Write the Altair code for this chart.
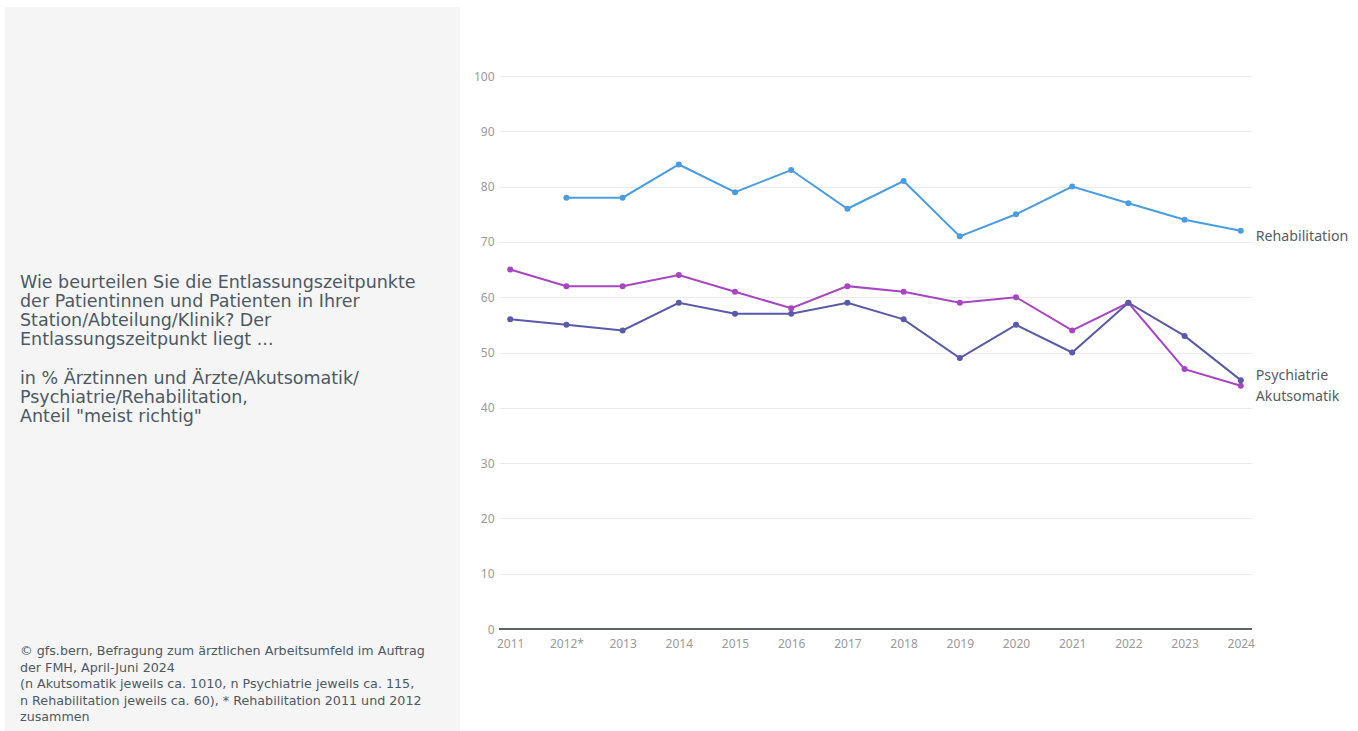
import altair as alt
import pandas as pd

years = ["2011", "2012*", "2013", "2014", "2015", "2016", "2017", "2018",
         "2019", "2020", "2021", "2022", "2023", "2024"]
rehabilitation = [None, 78, 78, 84, 79, 83, 76, 81, 71, 75, 80, 77, 74, 72]
akutsomatik = [65, 62, 62, 64, 61, 58, 62, 61, 59, 60, 54, 59, 47, 44]
psychiatrie = [56, 55, 54, 59, 57, 57, 59, 56, 49, 55, 50, 59, 53, 45]

series_names = ["Akutsomatik", "Psychiatrie", "Rehabilitation"]
series_colors = ["#a845c2", "#5a5aa8", "#4a9de0"]

question = ("Wie beurteilen Sie die Entlassungszeitpunkte\n"
            "der Patientinnen und Patienten in Ihrer\n"
            "Station/Abteilung/Klinik? Der\n"
            "Entlassungszeitpunkt liegt ...")
unit = ("in % Ärztinnen und Ärzte/Akutsomatik/\n"
        "Psychiatrie/Rehabilitation,\n"
        "Anteil \"meist richtig\"")
source = ("© gfs.bern, Befragung zum ärztlichen Arbeitsumfeld im Auftrag\n"
          "der FMH, April-Juni 2024\n"
          "(n Akutsomatik jeweils ca. 1010, n Psychiatrie jeweils ca. 115,\n"
          "n Rehabilitation jeweils ca. 60), * Rehabilitation 2011 und 2012\n"
          "zusammen")

rows = []
for name, vals in zip(["Rehabilitation", "Akutsomatik", "Psychiatrie"],
                      [rehabilitation, akutsomatik, psychiatrie]):
    for y, v in zip(years, vals):
        if v is not None:
            rows.append({"Jahr": y, "Wert": v, "Serie": name})
df = pd.DataFrame(rows)
one = pd.DataFrame({"k": [0]})

W, H = 753, 553
FONT = "Noto Sans"
LFONT = "DejaVu Sans"
TXT = "#4d5963"

xenc = alt.X("Jahr:N", sort=years, scale=alt.Scale(type="point", padding=0.2),
             axis=alt.Axis(title=None, labelAngle=0, domain=False, ticks=False,
                           grid=False, labelColor="#9a9a9a", labelFontSize=12,
                           labelFont=FONT, labelPadding=9))
yenc = alt.Y("Wert:Q", scale=alt.Scale(domain=[0, 100]),
             axis=alt.Axis(title=None, values=list(range(0, 101, 10)), domain=False,
                           ticks=False, gridColor="#ececec", gridWidth=1,
                           labelColor="#9a9a9a", labelFontSize=12, labelFont=FONT,
                           labelPadding=5))
color = alt.Color("Serie:N", scale=alt.Scale(domain=series_names, range=series_colors),
                  legend=None)

base = alt.Chart(df)
single = alt.Chart(one)

panel = single.mark_rect(color="#f5f5f5").encode(
    x=alt.value(-494), x2=alt.value(-39), y=alt.value(-69), y2=alt.value(656))

q_text = single.mark_text(align="left", baseline="top", lineBreak="\n", lineHeight=19,
                          fontSize=17.5, font=LFONT, color=TXT).encode(
    x=alt.value(-479), y=alt.value(198), text=alt.value(question))

u_text = single.mark_text(align="left", baseline="top", lineBreak="\n", lineHeight=19,
                          fontSize=17.5, font=LFONT, color=TXT).encode(
    x=alt.value(-479), y=alt.value(294), text=alt.value(unit))

s_text = single.mark_text(align="left", baseline="top", lineBreak="\n", lineHeight=16.5,
                          fontSize=12.7, font=LFONT, color=TXT).encode(
    x=alt.value(-479), y=alt.value(569), text=alt.value(source))

lines = base.mark_line(strokeWidth=2).encode(x=xenc, y=yenc, color=color,
                                              detail="Serie:N")
points = base.mark_circle(size=36, opacity=1).encode(x=xenc, y=yenc, color=color)

zero = single.mark_rule(color="#5f6366", strokeWidth=2).encode(
    x=alt.value(0), x2=alt.value(W), y=alt.datum(0))

labels = []
for name, dy in [("Rehabilitation", 6), ("Psychiatrie", -4), ("Akutsomatik", 11)]:
    sub = df[(df["Serie"] == name) & (df["Jahr"] == "2024")]
    labels.append(alt.Chart(sub).mark_text(align="left", baseline="middle", dx=15, dy=dy,
                                           fontSize=14.2, font=FONT, color="#555c63").encode(
        x=alt.X("Jahr:N", sort=years), y="Wert:Q", text="Serie:N"))

chart = alt.layer(panel, q_text, u_text, s_text, lines, points, zero, *labels).properties(
    width=W, height=H,
    autosize=alt.AutoSizeParams(type="none"),
    padding={"left": 499, "top": 76, "right": 106, "bottom": 102},
).configure_view(stroke=None)

chart.save("out.html", embed_options={"renderer": "svg", "actions": False})
